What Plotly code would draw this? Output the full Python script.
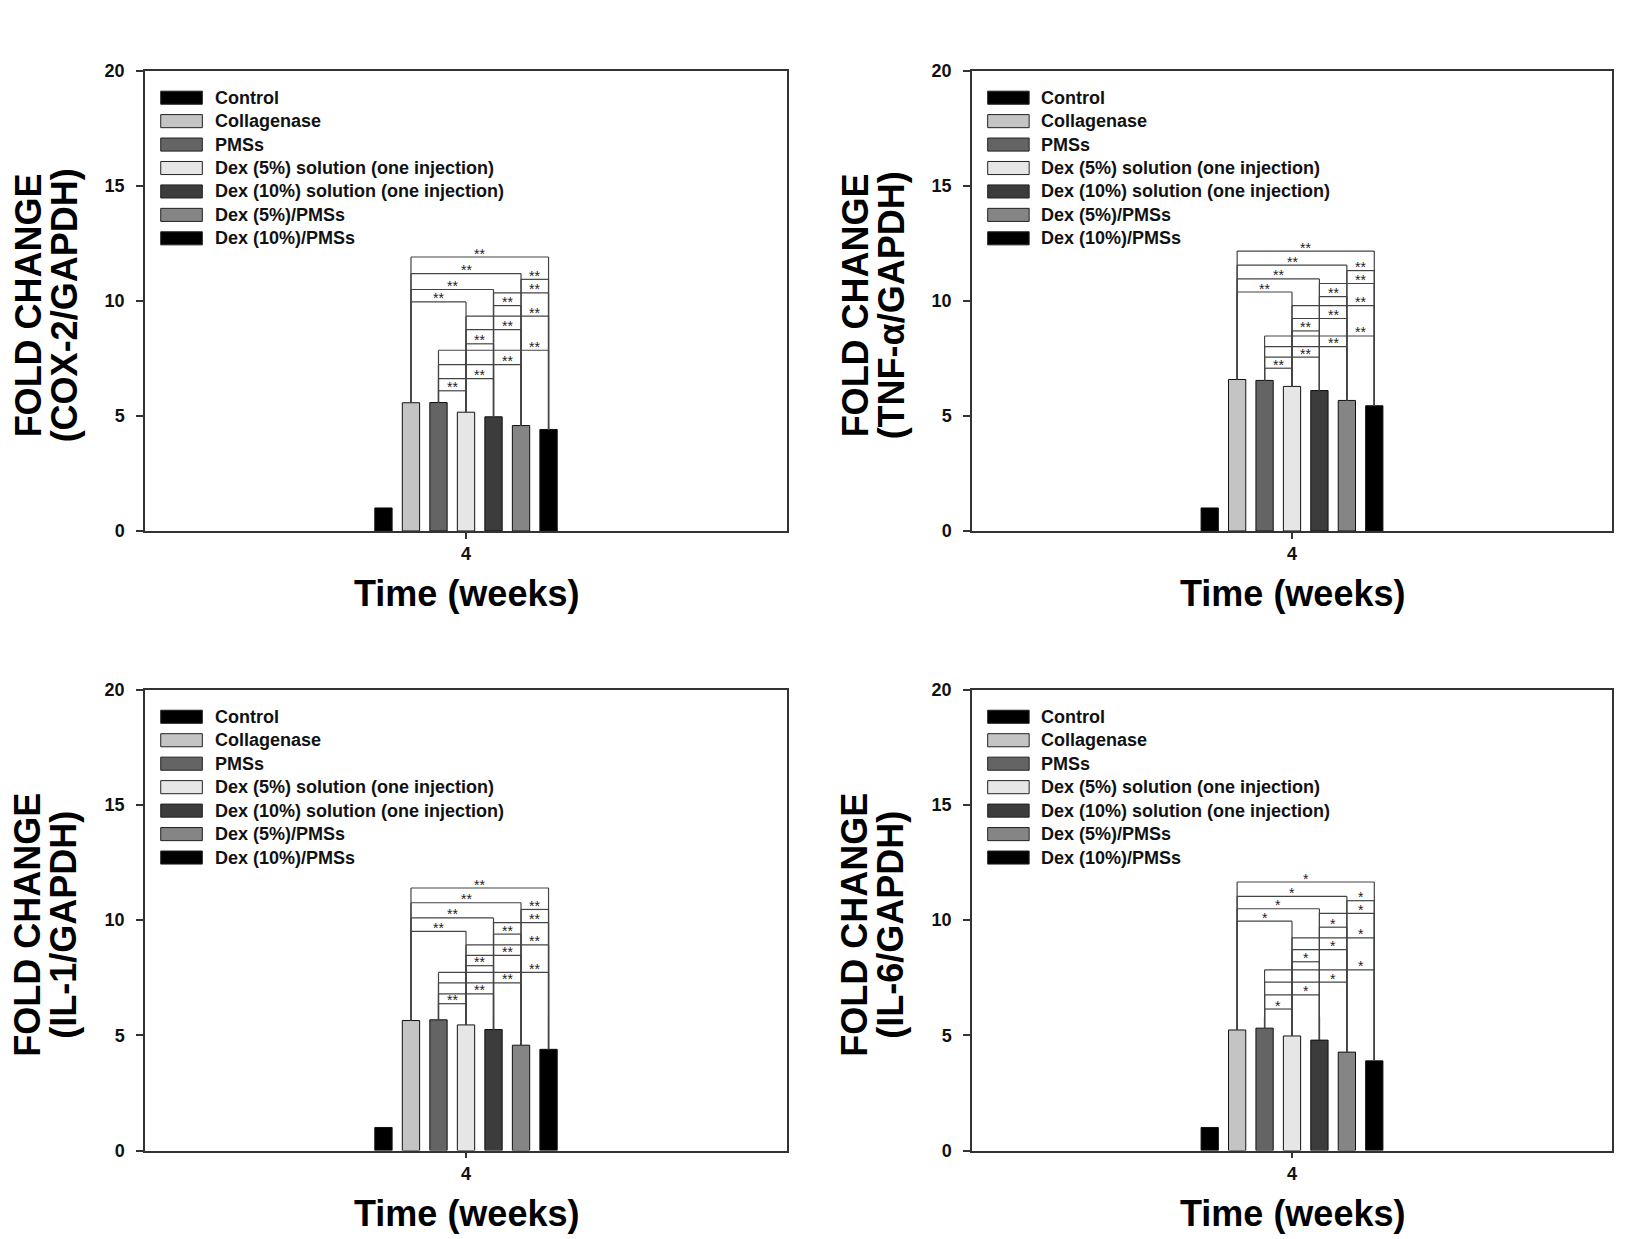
import plotly.graph_objects as go

# ---------------- data ----------------
groups = ["Control", "Collagenase", "PMSs",
          "Dex (5%) solution (one injection)",
          "Dex (10%) solution (one injection)",
          "Dex (5%)/PMSs", "Dex (10%)/PMSs"]
colors = ["#000000", "#c4c4c4", "#646464", "#e6e6e6", "#3c3c3c", "#858585", "#000000"]
time_cats = ["4"]

cox2 = [1.0, 5.57, 5.58, 5.16, 4.96, 4.58, 4.41]
tnfa = [1.0, 6.58, 6.54, 6.28, 6.10, 5.67, 5.44]
il1 = [1.0, 5.64, 5.67, 5.45, 5.25, 4.57, 4.39]
il6 = [1.0, 5.23, 5.31, 4.97, 4.79, 4.27, 3.89]

# significance comparisons (group index pairs) and bracket heights
pairs = [(1, 6), (1, 5), (5, 6), (1, 4), (4, 6), (1, 3), (4, 5),
         (3, 6), (3, 5), (3, 4), (2, 6), (2, 5), (2, 4), (2, 3)]
cox2_levels = [11.90, 11.18, 10.93, 10.49, 10.34, 9.95, 9.79, 9.33, 8.75, 8.13, 7.85, 7.23, 6.62, 6.09]
tnfa_levels = [12.16, 11.55, 11.31, 10.95, 10.75, 10.38, 10.18, 9.79, 9.23, 8.69, 8.47, 8.01, 7.55, 7.07]
il1_levels = [11.39, 10.75, 10.46, 10.09, 9.89, 9.51, 9.39, 8.92, 8.47, 8.02, 7.73, 7.27, 6.80, 6.37]
il6_levels = [11.65, 11.03, 10.84, 10.49, 10.29, 9.95, 9.69, 9.23, 8.72, 8.19, 7.84, 7.31, 6.75, 6.14]

ytitle_line1 = "FOLD CHANGE"
ytitle_line2 = ["(COX-2/GAPDH)", "(TNF-α/GAPDH)", "(IL-1/GAPDH)", "(IL-6/GAPDH)"]
marks = ["**", "**", "**", "*"]
xtitle = "Time (weeks)"
yticks = [0, 5, 10, 15, 20]

# ---------------- layout params ----------------
W, H = 1650, 1239
BARGAP = 0.70
BARGROUPGAP = 0.37
FONT = "Liberation Sans, Arial, sans-serif"
AX = "#333333"

col_px = [(137, 779), (964, 1604)]
row_px = [(53.4, 521.4), (682.6, 1151.1)]

panels = [
    (cox2, cox2_levels, 0, 0),
    (tnfa, tnfa_levels, 0, 1),
    (il1, il1_levels, 1, 0),
    (il6, il6_levels, 1, 1),
]

fig = go.Figure()
shapes = []
annotations = []
n = len(groups)
slot = (1 - BARGAP) / n


def center(i):
    return -(1 - BARGAP) / 2 + slot * (i + 0.5)


for p, (vals, levels, r, c) in enumerate(panels):
    sfx = "" if p == 0 else str(p + 1)
    xa, ya = "x" + sfx, "y" + sfx
    for i, g in enumerate(groups):
        fig.add_trace(go.Bar(
            x=time_cats, y=[vals[i]], name=g, xaxis=xa, yaxis=ya,
            marker=dict(color=colors[i], line=dict(color="#111111", width=1)),
            showlegend=False, hovertemplate=g + ": %{y}<extra></extra>"))
    x0, x1 = col_px[c]
    t0, t1 = row_px[r]
    dom_x = [x0 / W, x1 / W]
    dom_y = [1 - t1 / H, 1 - t0 / H]
    common = dict(showline=True, linecolor=AX, linewidth=1.5, mirror=True,
                  showgrid=False, zeroline=False, ticks="outside", tickcolor=AX,
                  tickwidth=1.5, tickfont=dict(family=FONT, size=18, color="#111", weight="bold"))
    fig.update_layout(**{
        ("xaxis" + sfx): dict(domain=dom_x, anchor=ya, type="category",
                              range=[-0.5, 0.5], ticklen=6, **common),
        ("yaxis" + sfx): dict(domain=dom_y, anchor=xa, range=[0, 20],
                              tickvals=yticks, ticklen=7, ticklabelstandoff=8, **common),
    })
    # significance brackets
    for (a, b), lv in zip(pairs, levels):
        xa_, xb_ = center(a), center(b)
        for (sx0, sy0, sx1, sy1) in [(xa_, vals[a], xa_, lv), (xa_, lv, xb_, lv), (xb_, lv, xb_, vals[b])]:
            shapes.append(dict(type="line", xref=xa, yref=ya, x0=sx0, y0=sy0, x1=sx1, y1=sy1,
                               line=dict(color="#444444", width=1.2)))
        lx = (xa_ + xb_) / 2 if a == 1 else (center(b - 1) + xb_) / 2
        annotations.append(dict(xref=xa, yref=ya, x=lx, y=lv, text=marks[p], showarrow=False,
                                yanchor="middle", yshift=4, height=9, borderpad=0,
                                font=dict(family=FONT, size=14, color="#222")))
    # custom legend
    for i, g in enumerate(groups):
        yc = 0.941 - 0.0509 * i
        shapes.append(dict(type="rect", xref=xa + " domain", yref=ya + " domain",
                           x0=0.0245, x1=0.0893, y0=yc - 0.0142, y1=yc + 0.0142,
                           fillcolor=colors[i], line=dict(color="#222", width=1)))
        annotations.append(dict(xref=xa + " domain", yref=ya + " domain", x=0.1054, y=yc,
                                xanchor="left", yanchor="middle", text=g, showarrow=False,
                                font=dict(family=FONT, size=18, color="#111", weight="bold")))
    # axis titles
    annotations.append(dict(xref=xa + " domain", yref=ya + " domain", x=0.5, y=-0.136,
                            text=xtitle, showarrow=False, xanchor="center", yanchor="middle",
                            font=dict(family=FONT, size=36, color="#000", weight="bold")))
    annotations.append(dict(xref="paper", yref=ya + " domain", x=(x0 - 117) / W, y=0.49,
                            text=ytitle_line1, textangle=-90, showarrow=False,
                            xanchor="center", yanchor="middle",
                            font=dict(family=FONT, size=36, color="#000", weight="bold")))
    annotations.append(dict(xref="paper", yref=ya + " domain", x=(x0 - 81) / W, y=0.49,
                            text=ytitle_line2[p], textangle=-90, showarrow=False,
                            xanchor="center", yanchor="middle",
                            font=dict(family=FONT, size=36, color="#000", weight="bold")))

fig.update_layout(width=W, height=H, margin=dict(l=0, r=0, t=0, b=0),
                  paper_bgcolor="white", plot_bgcolor="white",
                  barmode="group", bargap=BARGAP, bargroupgap=BARGROUPGAP,
                  shapes=shapes, annotations=annotations, showlegend=False)

fig.write_html("out.html")
